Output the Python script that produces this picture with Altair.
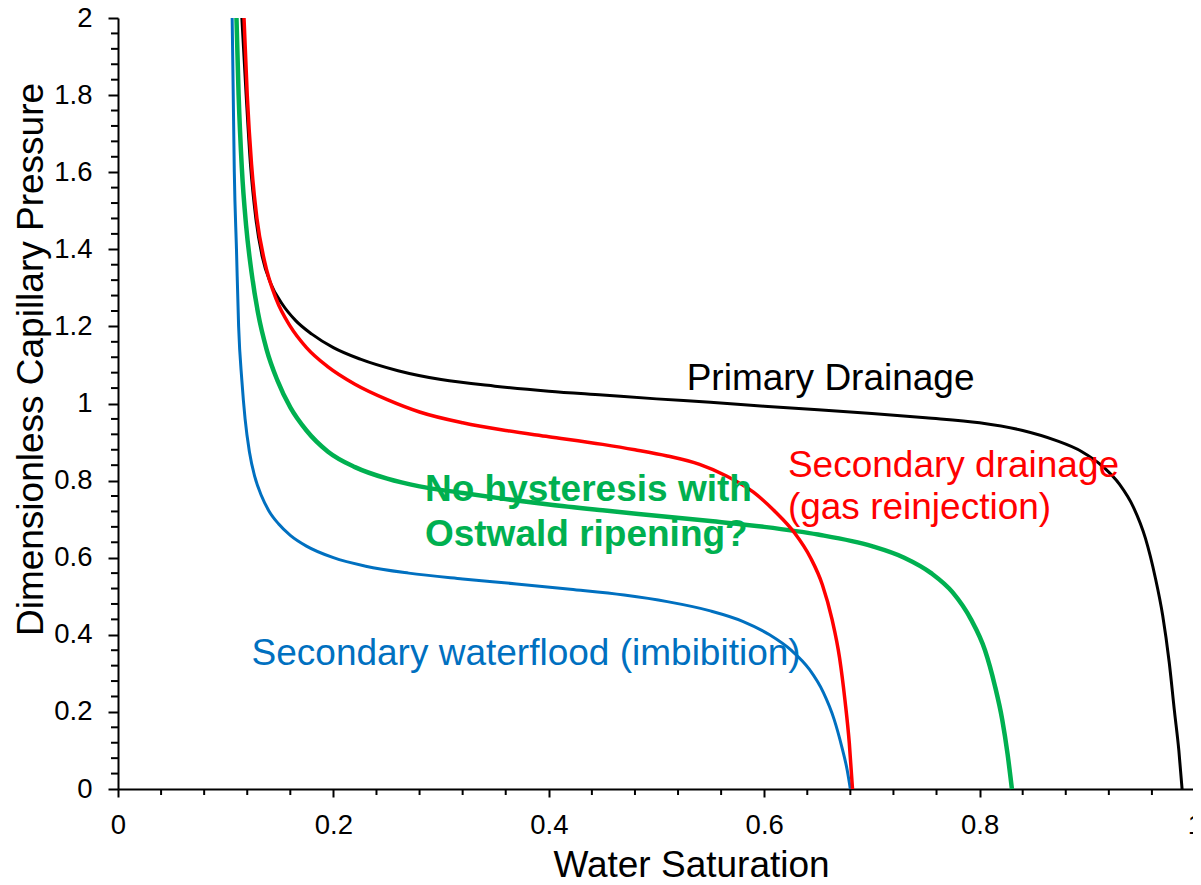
import altair as alt
import pandas as pd

# ---- data ----
black_s = [0.115, 0.119, 0.123, 0.128, 0.134, 0.142, 0.152, 0.165, 0.18, 0.20, 0.225, 0.26, 0.30, 0.35,
           0.40, 0.45, 0.50, 0.55, 0.60, 0.65, 0.70, 0.75, 0.80, 0.84, 0.87, 0.895, 0.915, 0.93, 0.943,
           0.954, 0.963, 0.970, 0.976, 0.981, 0.985, 0.988]
black_p = [2.0, 1.80, 1.62, 1.48, 1.38, 1.31, 1.26, 1.215, 1.18, 1.145, 1.115, 1.085, 1.062, 1.045,
           1.032, 1.022, 1.012, 1.003, 0.993, 0.984, 0.974, 0.963, 0.950, 0.930, 0.905, 0.875, 0.835, 0.79, 0.73,
           0.65, 0.55, 0.45, 0.33, 0.20, 0.10, 0.0]

red_s = [0.117, 0.120, 0.124, 0.129, 0.136, 0.147, 0.16, 0.175, 0.195, 0.22, 0.25, 0.28, 0.32, 0.36, 0.40,
         0.45, 0.48, 0.51, 0.54, 0.565, 0.59, 0.61, 0.628, 0.643, 0.654, 0.663, 0.670, 0.675, 0.679, 0.682]
red_p = [2.0, 1.80, 1.62, 1.48, 1.37, 1.27, 1.20, 1.145, 1.095, 1.05, 1.01, 0.978, 0.95, 0.93, 0.914,
         0.894, 0.88, 0.864, 0.842, 0.812, 0.77, 0.72, 0.665, 0.60, 0.53, 0.44, 0.34, 0.23, 0.12, 0.0]

green_s = [0.110, 0.112, 0.115, 0.119, 0.124, 0.130, 0.138, 0.148, 0.160, 0.175, 0.195, 0.22, 0.25, 0.28,
           0.32, 0.36, 0.40, 0.45, 0.50, 0.55, 0.60, 0.65, 0.70, 0.73, 0.755, 0.775, 0.792, 0.805, 0.814,
           0.821, 0.826, 0.830]
green_p = [2.0, 1.80, 1.61, 1.46, 1.34, 1.235, 1.14, 1.06, 0.99, 0.93, 0.875, 0.835, 0.805, 0.785,
           0.768, 0.752, 0.738, 0.723, 0.709, 0.695, 0.68, 0.66, 0.63, 0.60, 0.56, 0.51, 0.44, 0.36, 0.27,
           0.18, 0.09, 0.0]

blue_s = [0.106, 0.107, 0.108, 0.110, 0.112, 0.115, 0.118, 0.122, 0.127, 0.133, 0.140, 0.149, 0.16, 0.175,
          0.20, 0.23, 0.27, 0.32, 0.37, 0.42, 0.47, 0.51, 0.55, 0.58, 0.605, 0.625, 0.642, 0.655, 0.665,
          0.672, 0.677, 0.680]
blue_p = [2.0, 1.80, 1.60, 1.40, 1.20, 1.06, 0.96, 0.875, 0.81, 0.762, 0.722, 0.688, 0.658, 0.630,
          0.600, 0.578, 0.56, 0.545, 0.532, 0.518, 0.503, 0.486, 0.462, 0.435, 0.40, 0.36, 0.31, 0.25, 0.18,
          0.11, 0.05, 0.0]

x_major = [0, 0.2, 0.4, 0.6, 0.8, 1.0]
y_major = [0, 0.2, 0.4, 0.6, 0.8, 1.0, 1.2, 1.4, 1.6, 1.8, 2.0]
x_minor = [round(i * 0.04, 2) for i in range(26) if i % 5 != 0]
y_minor = [round(i * 0.04, 2) for i in range(51) if i % 5 != 0]

FONT = "Liberation Sans, Arial, Helvetica, sans-serif"
PLOT_W = 1077
PLOT_H = 771


def frame(s, p):
    return pd.DataFrame({"sw": s, "pc": p, "i": list(range(len(s)))})


x_scale = alt.Scale(domain=[0, 1], nice=False, zero=False)
y_scale = alt.Scale(domain=[0, 2], nice=False, zero=False)

x_axis = alt.Axis(values=x_major, format="~g", tickSize=8, labelPadding=14, labelFlush=False,
                  title="Water Saturation", titleX=573, titleY=87, titleAlign="center",
                  titleBaseline="alphabetic", titleAngle=0)
y_axis = alt.Axis(values=y_major, format="~g", tickSize=10, labelPadding=16, labelFlush=False,
                  title="Dimensionless Capillary Pressure", titleX=-76, titleY=341,
                  titleAlign="center", titleBaseline="alphabetic", titleAngle=270)


def curve(s, p, color, width):
    return alt.Chart(frame(s, p)).mark_line(color=color, strokeWidth=width, interpolate="monotone").encode(
        x=alt.X("sw:Q", scale=x_scale, axis=x_axis),
        y=alt.Y("pc:Q", scale=y_scale, axis=y_axis),
        order="i:Q",
    )


layers = [
    curve(black_s, black_p, "#000000", 3),
    curve(blue_s, blue_p, "#0070C0", 3),
    curve(green_s, green_p, "#00B050", 4.5),
    curve(red_s, red_p, "#FF0000", 3.5),
]

# minor ticks
xm = alt.Chart(pd.DataFrame({"v": x_minor})).mark_rule(color="black", strokeWidth=2).encode(
    x=alt.X("v:Q", scale=x_scale, axis=x_axis), y=alt.value(PLOT_H), y2=alt.value(PLOT_H + 6))
ym = alt.Chart(pd.DataFrame({"v": y_minor})).mark_rule(color="black", strokeWidth=2).encode(
    y=alt.Y("v:Q", scale=y_scale, axis=y_axis), x=alt.value(-7), x2=alt.value(0))
layers += [xm, ym]


def note(text, xs, yp, color, bold=False):
    return alt.Chart(pd.DataFrame({"t": [text]})).mark_text(
        align="left", baseline="alphabetic", font=FONT, fontSize=37, color=color,
        fontWeight="bold" if bold else "normal"
    ).encode(x=alt.X(datum=xs, scale=x_scale), y=alt.Y(datum=yp, scale=y_scale), text="t:N")


layers += [
    note("Primary Drainage", 0.528, 1.035, "#000000"),
    note("Secondary drainage", 0.622, 0.81, "#FF0000"),
    note("(gas reinjection)", 0.622, 0.70, "#FF0000"),
    note("No hysteresis with", 0.285, 0.748, "#00B050", True),
    note("Ostwald ripening?", 0.285, 0.631, "#00B050", True),
    note("Secondary waterflood (imbibition)", 0.124, 0.321, "#0070C0"),
]

chart = alt.layer(*layers).properties(
    width=PLOT_W, height=PLOT_H, autosize="none",
    padding={"left": 110, "top": 10, "right": -2, "bottom": 88},
).configure_view(strokeWidth=0).configure_axis(
    grid=False, domainColor="black", domainWidth=2, tickColor="black", tickWidth=2,
    labelFont=FONT, labelFontSize=27.5, labelColor="black",
    titleFont=FONT, titleFontSize=37, titleFontWeight="normal", titleColor="black",
)

chart.save("out.html", embed_options={"renderer": "svg", "actions": False})
